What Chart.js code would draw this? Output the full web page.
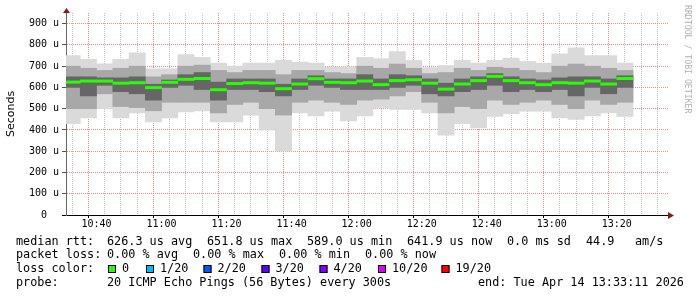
<!DOCTYPE html>
<html>
<head>
<meta charset="utf-8">
<script src="https://cdn.jsdelivr.net/npm/chart.js@4/dist/chart.umd.min.js"></script>
<style>
    html, body { margin: 0; padding: 0; background: #fff; }
    #wrap { width: 697px; height: 297px; position: relative; }
</style>
</head>
<body>
<div id="wrap"><canvas id="smokeChart"></canvas></div>
<script>
// 5 minute slots (start of each slot), 20 pings per slot
const slotStart = ['10:30', '10:35', '10:40', '10:45', '10:50', '10:55', '11:00', '11:05', '11:10', '11:15',
    '11:20', '11:25', '11:30', '11:35', '11:40', '11:45', '11:50', '11:55', '12:00', '12:05',
    '12:10', '12:15', '12:20', '12:25', '12:30', '12:35', '12:40', '12:45', '12:50', '12:55',
    '13:00', '13:05', '13:10', '13:15', '13:20'];

// values in microseconds
const pingMax = [750, 732, 711, 732, 763, 688, 688, 754, 742, 714, 700, 715, 715, 727, 719, 715, 696, 697, 742, 735,
    769, 727, 693, 703, 727, 715, 727, 738, 722, 714, 758, 786, 750, 750, 715];
const pingHi2 = [700, 690, 680, 690, 700, 650, 660, 700, 705, 680, 670, 680, 680, 660, 680, 680, 670, 665, 700, 690,
    710, 690, 665, 670, 690, 680, 695, 690, 680, 670, 700, 710, 700, 690, 680];
const pingHi3 = [650, 650, 645, 645, 650, 615, 635, 660, 670, 625, 640, 640, 640, 615, 640, 655, 640, 640, 660, 640,
    660, 655, 640, 620, 640, 650, 665, 650, 640, 635, 645, 650, 650, 640, 655];
const medianRtt = [625, 630, 630, 620, 622, 599, 624, 638, 642, 589, 618, 622, 620, 594, 616, 641, 624, 622, 630, 613,
    632, 636, 620, 592, 616, 632, 652, 632, 622, 613, 622, 620, 630, 616, 642];
const pingLo3 = [600, 560, 610, 580, 570, 540, 600, 610, 590, 540, 590, 590, 580, 560, 590, 610, 600, 590, 590, 590,
    600, 610, 570, 560, 580, 590, 610, 580, 590, 580, 590, 560, 600, 570, 600];
const pingLo2 = [500, 500, 570, 510, 505, 490, 530, 530, 530, 480, 520, 530, 500, 470, 530, 540, 530, 520, 540, 545,
    560, 580, 530, 480, 510, 500, 540, 520, 530, 540, 520, 500, 540, 520, 530];
const pingMin = [430, 456, 500, 456, 480, 438, 456, 485, 489, 438, 438, 469, 399, 300, 480, 466, 488, 442, 466, 503,
    496, 496, 480, 375, 430, 409, 464, 477, 488, 488, 456, 450, 466, 480, 464];

const graphStart = '10:33:11';
const graphEnd = '13:33:11';
const timeLabels = ['10:40', '11:00', '11:20', '11:40', '12:00', '12:20', '12:40', '13:00', '13:20'];
const yMax = 950;

const lossLabels = ['0', '1/20', '2/20', '3/20', '4/20', '10/20', '19/20'];
const lossColors = ['#26ff00', '#00b8ff', '#0059ff', '#5e00ff', '#7e00ff', '#dd00ff', '#ff0000'];

const statsLine = ['626.3 us avg', '651.8 us max', '589.0 us min', '641.9 us now', '0.0 ms sd', '44.9', 'am/s'];
const lossLine = ['0.00 % avg', '0.00 % max', '0.00 % min', '0.00 % now'];
const probeText = '20 ICMP Echo Pings (56 Bytes) every 300s';
const endText = 'end: Tue Apr 14 13:33:11 2026';

function toMin(s) {
    const p = s.split(':').map(Number);
    return p[0] * 60 + p[1] + (p[2] || 0) / 60;
}
function fmtMin(m) {
    const h = Math.floor(m / 60), mm = m % 60;
    return String(h).padStart(2, '0') + ':' + String(mm).padStart(2, '0');
}

const slotCenter = slotStart.map(s => toMin(s) + 2.5);
const band = (lo, hi) => slotCenter.map((x, i) => ({x: x, y: [lo[i], hi[i]]}));

const xTicks = [];
for (let m = Math.ceil(toMin(graphStart) / 5) * 5; m <= toMin(graphEnd); m += 5) xTicks.push(m);
const majorX = timeLabels.map(toMin);

const MONO = '"DejaVu Sans Mono", monospace';
const majorGrid = 'rgba(225, 120, 120, 0.85)';
const minorGrid = 'rgba(170, 170, 170, 0.75)';

const isMajorX = c => !!c.tick && majorX.includes(Math.round(c.tick.value));
const isMajorY = c => !!c.tick && c.tick.value % 100 === 0;

const rrdText = {
    id: 'rrdText',
    afterDraw(chart) {
        const ctx = chart.ctx;
        const area = chart.chartArea;
        ctx.save();

        // arrows
        ctx.fillStyle = '#8b1a1a';
        ctx.beginPath();
        ctx.moveTo(area.left - 3, area.top);
        ctx.lineTo(area.left + 0.5, area.top - 5);
        ctx.lineTo(area.left + 4, area.top);
        ctx.fill();
        ctx.beginPath();
        ctx.moveTo(area.right, area.bottom - 3);
        ctx.lineTo(area.right + 6, area.bottom + 0.5);
        ctx.lineTo(area.right, area.bottom + 4);
        ctx.fill();
        ctx.strokeStyle = '#000';
        ctx.lineWidth = 1;
        ctx.beginPath();
        ctx.moveTo(area.left - 4, area.bottom + 0.5);
        ctx.lineTo(area.left, area.bottom + 0.5);
        ctx.stroke();

        // y title
        ctx.fillStyle = '#000';
        ctx.font = '11px "DejaVu Sans"';
        ctx.textAlign = 'center';
        ctx.textBaseline = 'middle';
        ctx.translate(11, 114);
        ctx.rotate(-Math.PI / 2);
        ctx.fillText('Seconds', 0, 0);
        ctx.setTransform(1, 0, 0, 1, 0, 0);

        // watermark
        ctx.fillStyle = '#b0b0b0';
        ctx.font = '8.2px ' + MONO;
        ctx.textAlign = 'left';
        ctx.translate(687, 5);
        ctx.rotate(Math.PI / 2);
        ctx.fillText('RRDTOOL / TOBI OETIKER', 0, 0);
        ctx.setTransform(1, 0, 0, 1, 0, 0);

        // legend lines
        ctx.fillStyle = '#000';
        ctx.font = '11.8px ' + MONO;
        ctx.textAlign = 'left';
        ctx.textBaseline = 'middle';
        const rows = [241.5, 255, 269, 282.5];
        ctx.fillText('median rtt:', 16, rows[0]);
        const statX = [107, 207, 307, 407, 507, 586, 635];
        statsLine.forEach((t, i) => ctx.fillText(t, statX[i], rows[0]));

        ctx.fillText('packet loss:', 16, rows[1]);
        const lossX = [107, 193, 279, 365];
        lossLine.forEach((t, i) => ctx.fillText(t, lossX[i], rows[1]));

        ctx.fillText('loss color:', 16, rows[2]);
        const boxX = [108, 146, 203.5, 261.5, 319.5, 378, 441.5];
        lossLabels.forEach((t, i) => {
            ctx.fillStyle = lossColors[i];
            ctx.fillRect(boxX[i], rows[2] - 4, 8, 8);
            ctx.strokeStyle = '#000';
            ctx.strokeRect(boxX[i] + 0.5, rows[2] - 3.5, 7, 7);
            ctx.fillStyle = '#000';
            ctx.fillText(t, boxX[i] + 14, rows[2]);
        });

        ctx.fillText('probe:', 16, rows[3]);
        ctx.fillText(probeText, 107, rows[3]);
        ctx.fillText(endText, 478, rows[3]);
        ctx.restore();
    }
};

const barBase = {
    type: 'bar',
    grouped: false,
    borderWidth: 0,
    barPercentage: 1,
    categoryPercentage: 1,
    clip: 0
};

new Chart(document.getElementById('smokeChart'), {
    type: 'bar',
    data: {
        datasets: [
            {
                type: 'line',
                label: 'median',
                data: slotCenter.map((x, i) => ({x: x, y: medianRtt[i]})),
                showLine: false,
                pointStyle: 'line',
                pointRadius: 8.4,
                pointBorderWidth: 3,
                pointBorderColor: lossColors[0],
                pointBackgroundColor: lossColors[0],
                clip: 0,
                order: 1
            },
            Object.assign({}, barBase, {label: 'core', data: band(pingLo3, pingHi3), backgroundColor: '#666666', order: 2}),
            Object.assign({}, barBase, {label: 'mid', data: band(pingLo2, pingHi2), backgroundColor: '#a8a8a8', order: 3}),
            Object.assign({}, barBase, {label: 'outer', data: band(pingMin, pingMax), backgroundColor: '#dadada', order: 4})
        ]
    },
    options: {
        responsive: true,
        maintainAspectRatio: false,
        animation: false,
        events: [],
        layout: {padding: {left: 0, right: 29, top: 13, bottom: 0}},
        plugins: {legend: {display: false}, tooltip: {enabled: false}},
        scales: {
            x: {
                type: 'linear',
                z: 1,
                min: toMin(graphStart),
                max: toMin(graphEnd),
                afterBuildTicks: scale => { scale.ticks = xTicks.map(v => ({value: v})); },
                afterFit: scale => { scale.height = 82; },
                ticks: {
                    autoSkip: false,
                    maxRotation: 0,
                    padding: 0,
                    color: '#000',
                    font: {family: MONO, size: 10},
                    callback: v => majorX.includes(Math.round(v)) ? fmtMin(Math.round(v)) : ''
                },
                grid: {
                    color: c => isMajorX(c) ? majorGrid : minorGrid,
                    tickColor: c => isMajorX(c) ? '#000' : 'rgba(0,0,0,0)',
                    tickLength: 3,
                    lineWidth: 1
                },
                border: {display: true, color: '#000', width: 1, dash: [1, 1]}
            },
            y: {
                z: 1,
                min: 0,
                max: yMax,
                afterFit: scale => { scale.width = 66; },
                ticks: {
                    stepSize: 50,
                    padding: 3,
                    color: '#000',
                    font: {family: MONO, size: 10},
                    callback: v => v % 100 === 0 ? (v === 0 ? '0  ' : v + ' u') : ''
                },
                grid: {
                    color: c => isMajorY(c) ? majorGrid : minorGrid,
                    tickColor: c => isMajorY(c) ? '#555' : 'rgba(0,0,0,0)',
                    tickLength: 4,
                    lineWidth: 1
                },
                border: {display: true, color: '#666', width: 1, dash: [1, 1]}
            }
        }
    },
    plugins: [rrdText]
});
</script>
</body>
</html>
